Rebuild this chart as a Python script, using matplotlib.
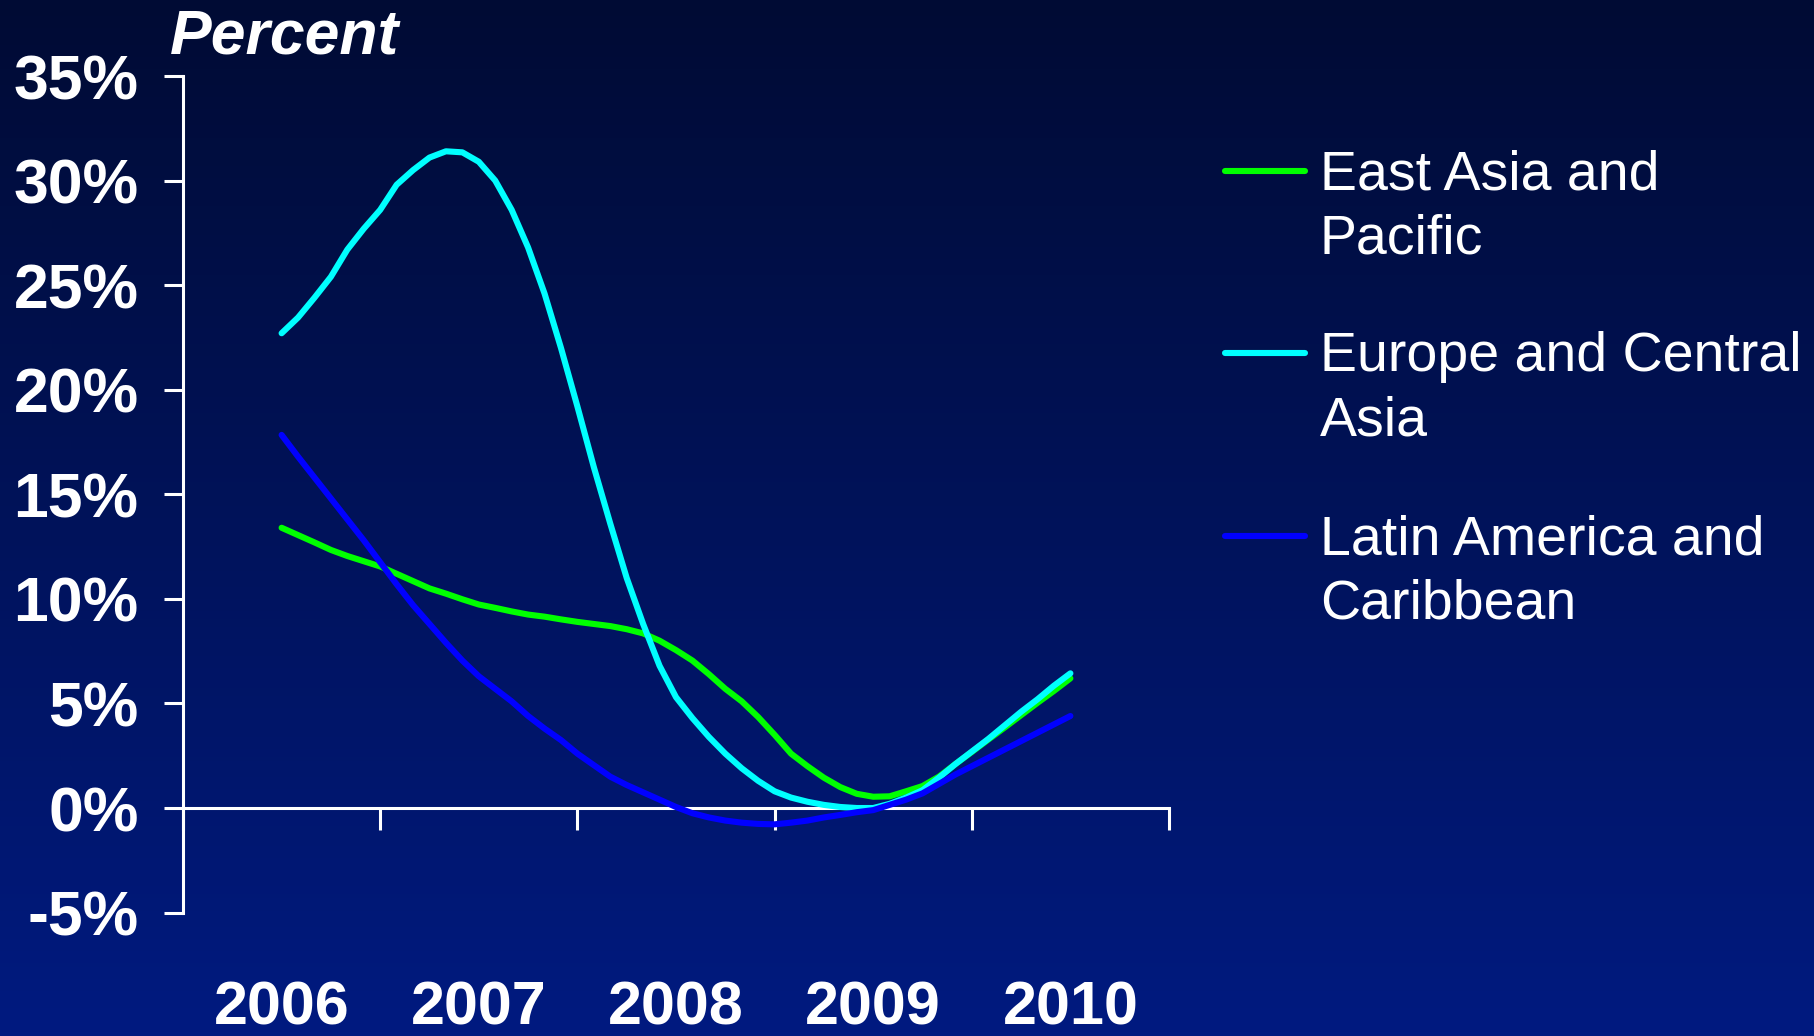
import numpy as np
import matplotlib
matplotlib.use("Agg")
import matplotlib.pyplot as plt
from matplotlib.lines import Line2D

plt.rcParams['font.family'] = ['Liberation Sans', 'DejaVu Sans']

# ---- data: monthly growth, Jan 2006 .. Jan 2010 (percent) ----
years = ["2006", "2007", "2008", "2009", "2010"]
months = np.arange(49)

east_asia = [13.4, 13.05, 12.7, 12.34, 12.05, 11.8, 11.55, 11.2, 10.85, 10.5,
             10.25, 9.98, 9.73, 9.57, 9.4, 9.25, 9.15, 9.02, 8.9, 8.8,
             8.7, 8.55, 8.35, 8.0, 7.55, 7.05, 6.4, 5.7, 5.1, 4.35,
             3.5, 2.6, 2.0, 1.45, 1.0, 0.68, 0.54, 0.56, 0.8, 1.05,
             1.5, 2.1, 2.68, 3.27, 3.85, 4.44, 5.03, 5.6, 6.2]
europe_ca = [22.7, 23.45, 24.4, 25.4, 26.7, 27.7, 28.6, 29.8, 30.5, 31.1,
             31.4, 31.35, 30.9, 30.0, 28.6, 26.8, 24.6, 22.0, 19.2, 16.3,
             13.6, 11.0, 8.8, 6.8, 5.3, 4.3, 3.4, 2.6, 1.9, 1.3,
             0.8, 0.5, 0.3, 0.15, 0.05, 0.0, 0.0, 0.2, 0.5, 0.85,
             1.45, 2.1, 2.7, 3.3, 3.95, 4.6, 5.2, 5.85, 6.44]
latin_am = [17.84, 16.8, 15.8, 14.8, 13.8, 12.8, 11.75, 10.7, 9.7, 8.8,
            7.9, 7.05, 6.3, 5.7, 5.1, 4.4, 3.8, 3.25, 2.6, 2.05,
            1.5, 1.1, 0.75, 0.4, 0.05, -0.25, -0.45, -0.6, -0.7, -0.76,
            -0.78, -0.7, -0.6, -0.45, -0.33, -0.2, -0.1, 0.15, 0.4, 0.7,
            1.15, 1.6, 2.0, 2.4, 2.8, 3.2, 3.6, 4.0, 4.4]

series_names = ["East Asia and\nPacific", "Europe and Central\nAsia",
                "Latin America and\nCaribbean"]
series_values = [east_asia, europe_ca, latin_am]
series_colors = ["#00ff00", "#00ffff", "#0000ff"]

y_ticks = list(range(-5, 40, 5))

# ---- figure ----
W, H, DPI = 1815, 1036, 100
fig = plt.figure(figsize=(W / DPI, H / DPI), dpi=DPI)

def fx(px):
    return px / W

def fy(py):
    return 1 - py / H

# vertical gradient background
bg = fig.add_axes([0, 0, 1, 1], zorder=-10)
top_c = np.array([0, 11, 52]) / 255
bot_c = np.array([0, 26, 128]) / 255
t = np.linspace(0, 1, 256)[:, None]
grad = top_c[None, :] * (1 - t) + bot_c[None, :] * t
bg.imshow(grad[:, None, :], aspect='auto', extent=[0, 1, 0, 1])
bg.set_axis_off()

ax = fig.add_axes([fx(183), fy(912.6), fx(1169) - fx(183), fy(76) - fy(912.6)])
ax.set_facecolor('none')

x = months / 12.0
for vals, col in zip(series_values, series_colors):
    ax.plot(x, vals, color=col, lw=4.4, solid_capstyle='round',
            solid_joinstyle='round', zorder=3)

ax.set_xlim(-0.5, 4.5)
ax.set_ylim(-5, 35)

for s in ['top', 'right']:
    ax.spines[s].set_visible(False)
ax.spines['bottom'].set_position(('data', 0))
for s in ['left', 'bottom']:
    ax.spines[s].set_color('white')
    ax.spines[s].set_linewidth(2.2)

ax.set_yticks(y_ticks, [f"{v}%" for v in y_ticks])
ax.tick_params(axis='y', direction='out', length=14, width=2.2, color='white',
               pad=18, labelsize=45, labelcolor='white')
for lab in ax.get_yticklabels():
    lab.set_fontweight('bold')

ax.set_xticks(np.arange(-0.5, 5.0, 1.0), [""] * 6)
ax.set_xticks(np.arange(len(years)), years, minor=True)
ax.tick_params(axis='x', which='major', direction='out', length=16, width=2.2,
               color='white')
ax.tick_params(axis='x', which='minor', length=0, pad=124, labelsize=44,
               labelcolor='white')
for lab in ax.get_xticklabels(minor=True):
    lab.set_fontweight('bold')

fig.text(fx(170), fy(53), "Percent", color='white', fontsize=45,
         fontweight='bold', fontstyle='italic', va='baseline', ha='left')

# legend drawn beside the plot: handle sits on the first text line
leg_y = [171, 353, 536]
line_step = 62.5
for name, col, yy in zip(series_names, series_colors, leg_y):
    fig.add_artist(Line2D([fx(1225), fx(1305)], [fy(yy), fy(yy)], color=col,
                          lw=4.4, solid_capstyle='round'))
    n_lines = name.count("\n") + 1
    last_baseline = yy + 20 + line_step * (n_lines - 1)
    fig.text(fx(1320), fy(last_baseline), name, color='white', fontsize=40,
             va='baseline', ha='left', linespacing=1.31)

fig.savefig("out.png", dpi=DPI)
